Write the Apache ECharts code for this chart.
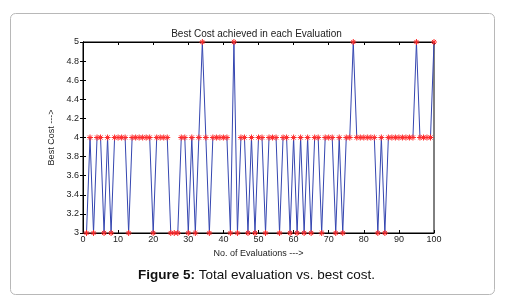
<!DOCTYPE html>
<html>
<head>
<meta charset="utf-8">
<script src="https://cdn.jsdelivr.net/npm/echarts@6/dist/echarts.min.js"></script>
<style>
  html, body { margin: 0; padding: 0; background: #fff; }
  #chart { width: 513px; height: 304px; }
</style>
</head>
<body>
<div id="chart"></div>
<script>
// evaluation number 1..100
const evaluations = Array.from({ length: 100 }, (_, i) => i + 1);

// best cost per evaluation
const bestCost = [
  3, 4, 3, 4, 4, 3, 4, 3, 4, 4,
  4, 4, 3, 4, 4, 4, 4, 4, 4, 3,
  4, 4, 4, 4, 3, 3, 3, 4, 4, 3,
  4, 3, 4, 5, 4, 3, 4, 4, 4, 4,
  4, 3, 5, 3, 4, 4, 3, 4, 3, 4,
  4, 3, 4, 4, 4, 3, 4, 4, 3, 4,
  3, 4, 3, 4, 3, 4, 4, 3, 4, 4,
  4, 3, 4, 3, 4, 4, 5, 4, 4, 4,
  4, 4, 4, 3, 4, 3, 4, 4, 4, 4,
  4, 4, 4, 4, 5, 4, 4, 4, 4, 5
];

const titleText = "Best Cost achieved in each Evaluation";
const xName = "No. of Evaluations --->";
const yName = "Best Cost --->";
const caption = "Figure 5: Total evaluation vs. best cost.";

const font = "'Liberation Sans', Arial, sans-serif";
const chart = echarts.init(document.getElementById("chart"));

const seriesData = evaluations.map((x, i) => [x, bestCost[i]]);

// little asterisk like the matlab '*' marker
const starPath = "path://M5,0L5,10M0,5L10,5M1.6,1.6L8.4,8.4M1.6,8.4L8.4,1.6";

const option = {
  backgroundColor: "#fff",
  animation: false,
  title: {
    text: titleText,
    left: "center",
    top: 29,
    padding: 0,
    textStyle: {
      fontFamily: font,
      fontSize: 10,
      fontWeight: "normal",
      color: "#222",
    },
  },
  grid: {
    left: 83,
    right: 79,
    top: 42,
    bottom: 71,
    show: true,
    borderColor: "#000",
    borderWidth: 1,
  },
  xAxis: [
    {
      type: "value",
      min: 0,
      max: 100,
      interval: 10,
      name: xName,
      nameLocation: "middle",
      nameGap: 5,
      nameTextStyle: { fontFamily: font, fontSize: 9, color: "#222" },
      axisLine: { lineStyle: { color: "#000" } },
      axisTick: { inside: true, length: 3, lineStyle: { color: "#000" } },
      axisLabel: { fontFamily: font, fontSize: 9, color: "#222", margin: 2 },
      splitLine: { show: false },
    },
    {
      type: "value",
      position: "top",
      min: 0,
      max: 100,
      interval: 10,
      axisLine: { lineStyle: { color: "#000" } },
      axisTick: { inside: true, length: 3, lineStyle: { color: "#000" } },
      axisLabel: { show: false },
      splitLine: { show: false },
    },
  ],
  yAxis: [
    {
      type: "value",
      min: 3,
      max: 5,
      interval: 0.2,
      name: yName,
      nameLocation: "middle",
      nameGap: 22,
      nameRotate: 90,
      nameTextStyle: { fontFamily: font, fontSize: 9, color: "#222" },
      axisLine: { show: true, lineStyle: { color: "#000" } },
      axisTick: { show: true, inside: true, length: 3, lineStyle: { color: "#000" } },
      axisLabel: {
        fontFamily: font,
        fontSize: 9,
        color: "#222",
        margin: 4,
        formatter: (v) => String(Math.round(v * 10) / 10),
      },
      splitLine: { show: false },
    },
    {
      type: "value",
      position: "right",
      min: 3,
      max: 5,
      interval: 0.2,
      axisLine: { show: true, lineStyle: { color: "#000" } },
      axisTick: { show: true, inside: true, length: 3, lineStyle: { color: "#000" } },
      axisLabel: { show: false },
      splitLine: { show: false },
    },
  ],
  series: [
    {
      type: "line",
      data: seriesData,
      symbol: starPath,
      symbolSize: 6,
      showAllSymbol: true,
      lineStyle: { color: "#3546b0", width: 1 },
      itemStyle: { color: "#ff2a2a", borderColor: "#ff2a2a", borderWidth: 1 },
      z: 3,
    },
  ],
  graphic: [
    {
      type: "rect",
      left: 8,
      top: 11,
      shape: { width: 484, height: 281, r: 5 },
      style: { fill: "none", stroke: "#b8b8b8", lineWidth: 1 },
      silent: true,
    },
    {
      type: "text",
      left: "center",
      top: 268,
      style: {
        rich: {
          b: { fontFamily: font, fontSize: 13.5, fontWeight: "bold", fill: "#111" },
          n: { fontFamily: font, fontSize: 13.5, fill: "#111" },
        },
        text: "{b|" + caption.slice(0, 9) + "}{n|" + caption.slice(9) + "}",
      },
    },
  ],
};

chart.setOption(option);
</script>
</body>
</html>
